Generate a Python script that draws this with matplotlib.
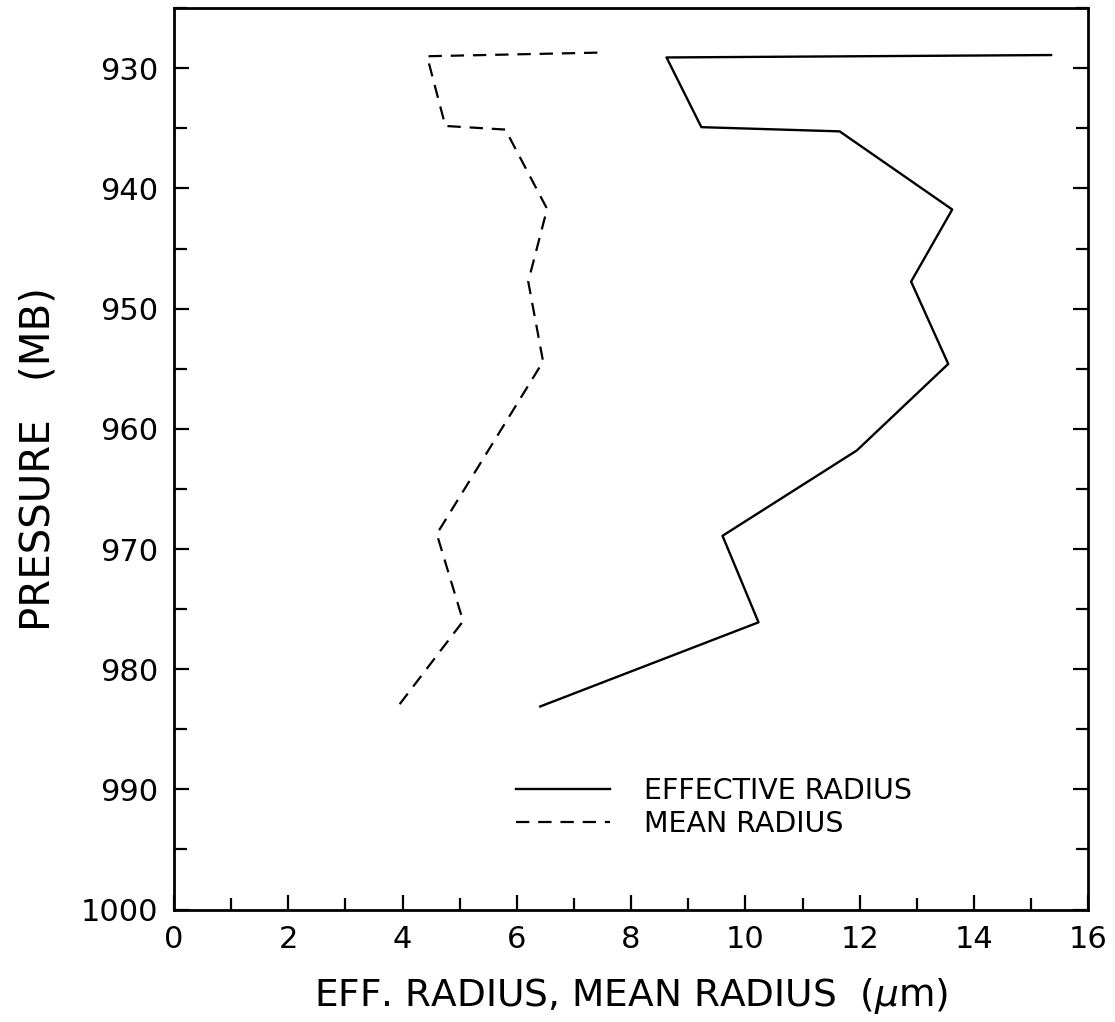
import matplotlib
matplotlib.use('Agg')
import matplotlib.pyplot as plt
from matplotlib.ticker import MultipleLocator

# effective radius profile (um) vs pressure (mb)
eff_radius = [15.35, 8.62, 9.23, 11.65, 13.62, 12.9, 13.55, 11.95, 9.6, 10.23, 6.41]
eff_pres = [928.9, 929.1, 934.9, 935.25, 941.75, 947.75, 954.6, 961.8, 968.9, 976.1, 983.1]

# mean radius profile (um) vs pressure (mb)
mean_radius = [7.41, 4.43, 4.75, 5.80, 6.53, 6.2, 6.46, 4.6, 5.06, 3.92]
mean_pres = [928.7, 929.0, 934.8, 935.1, 941.7, 947.75, 954.4, 968.75, 976.0, 983.1]

plt.rcParams['font.family'] = 'DejaVu Sans'

fig = plt.figure(figsize=(11.15, 10.22), dpi=100)
ax = fig.add_axes([0.156, 0.110, 0.820, 0.882])

ax.plot(eff_radius, eff_pres, color='black', linewidth=1.7, linestyle='-',
        label='EFFECTIVE RADIUS')
ax.plot(mean_radius, mean_pres, color='black', linewidth=1.6,
        linestyle=(0, (6.0, 4.0)), label='MEAN RADIUS')

ax.set_xlim(0, 16)
ax.set_ylim(1000, 925)
ax.xaxis.set_major_locator(MultipleLocator(2))
ax.xaxis.set_minor_locator(MultipleLocator(1))
ax.yaxis.set_minor_locator(MultipleLocator(5))
ax.set_yticks(range(930, 1001, 10))

ax.tick_params(which='both', direction='in', top=False, right=True,
               width=1.6, labelsize=22, pad=11)
ax.tick_params(which='major', length=11)
ax.tick_params(which='minor', length=9)
for sp in ax.spines.values():
    sp.set_linewidth(2)

ax.set_xlabel(r'EFF. RADIUS, MEAN RADIUS  ($\mu$m)', fontsize=27, labelpad=16)
ax.set_ylabel('PRESSURE   (MB)', fontsize=29, labelpad=16)

ax.legend(loc='upper left', bbox_to_anchor=(0.362, 0.160), frameon=False,
          fontsize=20.5, handlelength=3.3, handletextpad=1.2, labelspacing=0.2,
          borderaxespad=0)

fig.savefig('out.png', dpi=100)
plt.close(fig)
